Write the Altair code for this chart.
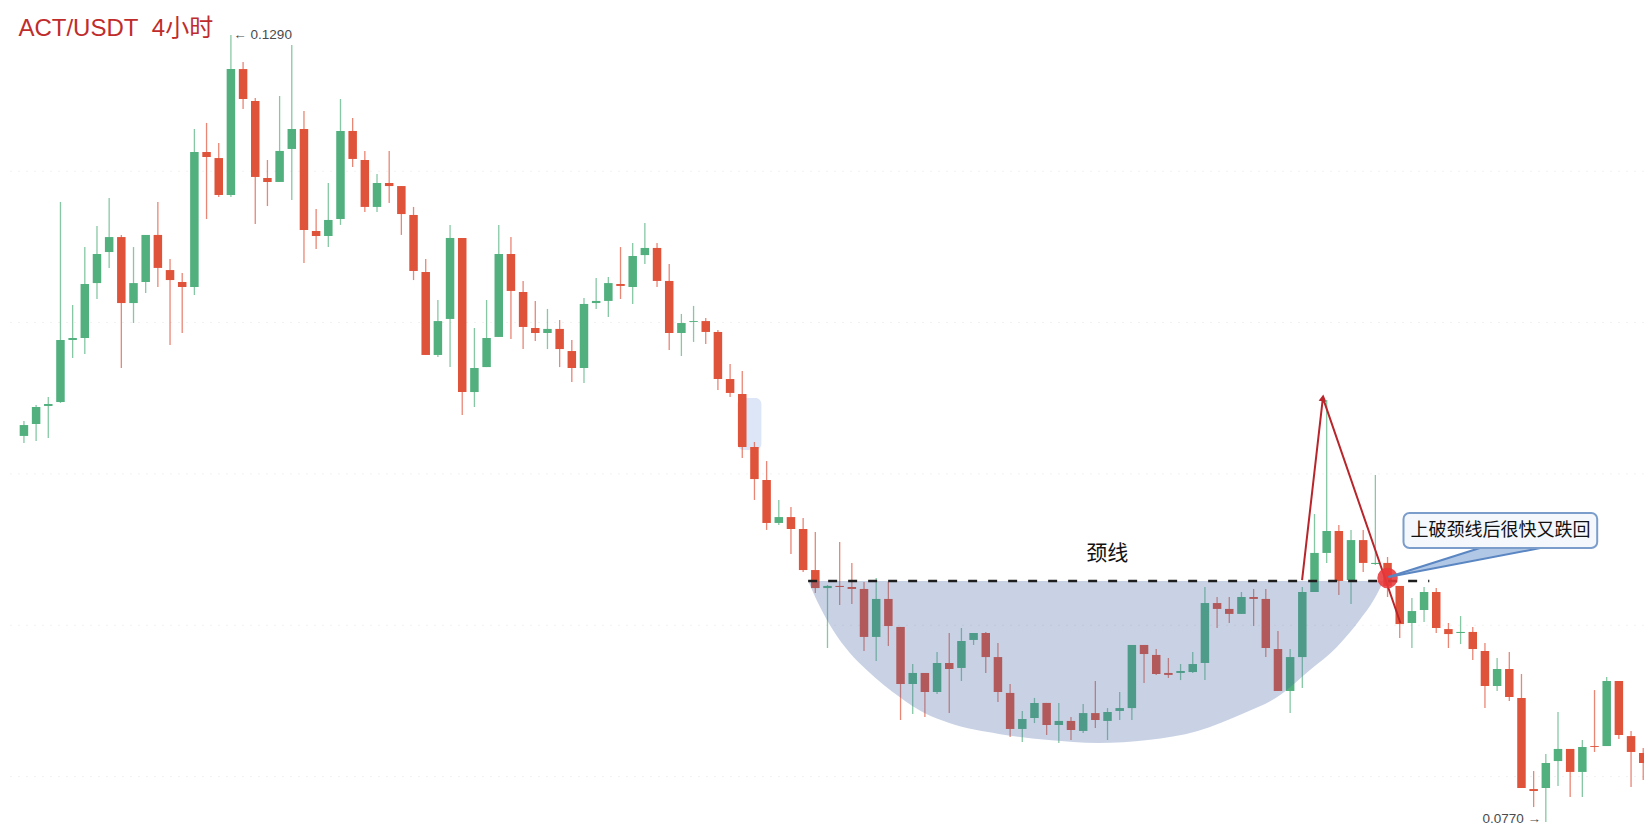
import altair as alt
import pandas as pd

# ---------------- candle data (ACT/USDT 4h) ----------------
opens = [
    0.10251, 0.10330, 0.10449, 0.10475, 0.10885, 0.10898, 0.11261, 0.11466, 0.11565, 0.11129,
    0.11268, 0.11579, 0.11347, 0.11268, 0.11235, 0.12127, 0.12087, 0.11843, 0.12675, 0.12464,
    0.11955, 0.11929, 0.12147, 0.12279, 0.11605, 0.11572, 0.11684, 0.12266, 0.12074, 0.11764,
    0.11922, 0.11902, 0.11711, 0.11334, 0.10786, 0.11024, 0.11559, 0.10541, 0.10706, 0.10905,
    0.11453, 0.11202, 0.10964, 0.10931, 0.10958, 0.10812, 0.10700, 0.11129, 0.11143, 0.11255,
    0.11235, 0.11446, 0.11493, 0.11275, 0.10931, 0.11004, 0.11010, 0.10938, 0.10627, 0.10528,
    0.10178, 0.09960, 0.09676, 0.09715, 0.09636, 0.09365, 0.09246, 0.09260, 0.09253, 0.09240,
    0.08923, 0.09174, 0.08989, 0.08612, 0.08685, 0.08559, 0.08751, 0.08718, 0.08903, 0.08949,
    0.08790, 0.08553, 0.08315, 0.08387, 0.08487, 0.08341, 0.08368, 0.08302, 0.08420, 0.08368,
    0.08434, 0.08453, 0.08870, 0.08804, 0.08685, 0.08685, 0.08691, 0.08751, 0.09147, 0.09108,
    0.09075, 0.09187, 0.09174, 0.08843, 0.08566, 0.08790, 0.09220, 0.09478, 0.09623, 0.09299,
    0.09563, 0.09405, 0.09412, 0.09260, 0.09015, 0.09101, 0.09220, 0.08975, 0.08949, 0.08956,
    0.08830, 0.08599, 0.08711, 0.08520, 0.07918, 0.07925, 0.08103, 0.08183, 0.08031, 0.08202,
    0.08202, 0.08632, 0.08268, 0.08156,
]
highs = [
    0.10350, 0.10455, 0.10508, 0.11797, 0.11116, 0.11499, 0.11638, 0.11823, 0.11579, 0.11499,
    0.11579, 0.11797, 0.11420, 0.11328, 0.12279, 0.12319, 0.12186, 0.12900, 0.12722, 0.12484,
    0.12074, 0.12497, 0.12834, 0.12398, 0.11750, 0.11922, 0.12477, 0.12352, 0.12134, 0.11982,
    0.12134, 0.11902, 0.11764, 0.11420, 0.11149, 0.11645, 0.11559, 0.10964, 0.11149, 0.11645,
    0.11565, 0.11275, 0.11143, 0.11090, 0.11017, 0.10885, 0.11162, 0.11295, 0.11301, 0.11499,
    0.11526, 0.11658, 0.11526, 0.11387, 0.11057, 0.11110, 0.11030, 0.10951, 0.10726, 0.10680,
    0.10211, 0.10085, 0.09828, 0.09782, 0.09709, 0.09616, 0.09266, 0.09550, 0.09412, 0.09286,
    0.09312, 0.09286, 0.08989, 0.08744, 0.08685, 0.08823, 0.08949, 0.08982, 0.08949, 0.08956,
    0.08883, 0.08612, 0.08434, 0.08520, 0.08487, 0.08487, 0.08394, 0.08480, 0.08632, 0.08453,
    0.08559, 0.08870, 0.08870, 0.08843, 0.08784, 0.08744, 0.08823, 0.09253, 0.09187, 0.09187,
    0.09220, 0.09240, 0.09240, 0.08962, 0.08843, 0.09253, 0.09735, 0.10488, 0.09663, 0.09630,
    0.09630, 0.09993, 0.09451, 0.09260, 0.09180, 0.09253, 0.09246, 0.09015, 0.09061, 0.08989,
    0.08883, 0.08784, 0.08823, 0.08678, 0.08037, 0.08150, 0.08427, 0.08183, 0.08242, 0.08572,
    0.08658, 0.08632, 0.08302, 0.08189,
]
lows = [
    0.10204, 0.10218, 0.10237, 0.10469, 0.10766, 0.10792, 0.11156, 0.11361, 0.10700, 0.10997,
    0.11195, 0.11235, 0.10852, 0.10931, 0.11182, 0.11684, 0.11830, 0.11830, 0.12411, 0.11651,
    0.11770, 0.11929, 0.11810, 0.11394, 0.11486, 0.11499, 0.11645, 0.12028, 0.11731, 0.11731,
    0.11790, 0.11579, 0.11281, 0.10786, 0.10773, 0.10706, 0.10389, 0.10442, 0.10706, 0.10905,
    0.10891, 0.10825, 0.10878, 0.10825, 0.10706, 0.10607, 0.10601, 0.11090, 0.11037, 0.11156,
    0.11123, 0.11387, 0.11235, 0.10819, 0.10779, 0.10872, 0.10858, 0.10555, 0.10508, 0.10105,
    0.09828, 0.09630, 0.09663, 0.09471, 0.09352, 0.09213, 0.08850, 0.09134, 0.09141, 0.08830,
    0.08764, 0.08863, 0.08374, 0.08414, 0.08394, 0.08546, 0.08420, 0.08632, 0.08870, 0.08685,
    0.08493, 0.08262, 0.08229, 0.08354, 0.08275, 0.08222, 0.08242, 0.08288, 0.08321, 0.08242,
    0.08374, 0.08374, 0.08619, 0.08672, 0.08652, 0.08638, 0.08685, 0.08638, 0.08982, 0.09015,
    0.09075, 0.08995, 0.08790, 0.08566, 0.08420, 0.08586, 0.09220, 0.09412, 0.09200, 0.09141,
    0.09352, 0.09398, 0.09187, 0.08916, 0.08850, 0.09022, 0.08949, 0.08850, 0.08876, 0.08771,
    0.08453, 0.08566, 0.08500, 0.07925, 0.07799, 0.07700, 0.07938, 0.07865, 0.07865, 0.08163,
    0.08202, 0.08249, 0.07932, 0.07978,
]
closes = [
    0.10323, 0.10442, 0.10462, 0.10885, 0.10898, 0.11255, 0.11453, 0.11565, 0.11129, 0.11261,
    0.11579, 0.11361, 0.11281, 0.11235, 0.12127, 0.12094, 0.11843, 0.12675, 0.12477, 0.11962,
    0.11929, 0.12134, 0.12279, 0.11612, 0.11572, 0.11678, 0.12266, 0.12081, 0.11764, 0.11922,
    0.11902, 0.11717, 0.11341, 0.10786, 0.11010, 0.11559, 0.10541, 0.10700, 0.10898, 0.11453,
    0.11209, 0.10971, 0.10931, 0.10958, 0.10825, 0.10700, 0.11123, 0.11143, 0.11261, 0.11242,
    0.11440, 0.11493, 0.11275, 0.10931, 0.10997, 0.11010, 0.10938, 0.10627, 0.10535, 0.10178,
    0.09966, 0.09676, 0.09715, 0.09636, 0.09365, 0.09246, 0.09260, 0.09253, 0.09240, 0.08923,
    0.09174, 0.08995, 0.08612, 0.08685, 0.08559, 0.08751, 0.08711, 0.08896, 0.08949, 0.08790,
    0.08559, 0.08315, 0.08381, 0.08487, 0.08341, 0.08368, 0.08308, 0.08420, 0.08374, 0.08427,
    0.08453, 0.08870, 0.08810, 0.08678, 0.08672, 0.08698, 0.08744, 0.09147, 0.09108, 0.09075,
    0.09187, 0.09174, 0.08850, 0.08566, 0.08790, 0.09220, 0.09478, 0.09623, 0.09293, 0.09563,
    0.09412, 0.09412, 0.09260, 0.09008, 0.09094, 0.09220, 0.08982, 0.08942, 0.08956, 0.08843,
    0.08599, 0.08711, 0.08526, 0.07925, 0.07905, 0.08090, 0.08183, 0.08031, 0.08196, 0.08196,
    0.08632, 0.08275, 0.08163, 0.08090,
]

# ---------------- annotation data ----------------
grid_prices = [0.08, 0.09, 0.10, 0.11, 0.12]
neckline_price = 0.09293
neckline_x = [64.41, 115.43]
# cup (rounded bottom) outline: candle index / price
cup_x = [64.41, 65.39, 66.45, 67.84, 69.22, 71.92, 73.96, 76.00, 80.08, 84.16, 88.24,
         92.33, 96.41, 100.24, 102.94, 105.63, 107.84, 109.71, 110.86, 111.67]
cup_low = [0.09293, 0.09121, 0.08969, 0.08817, 0.08705, 0.08526, 0.08420, 0.08354, 0.08282,
           0.08242, 0.08222, 0.08242, 0.08302, 0.08420, 0.08526, 0.08705, 0.08857, 0.09035,
           0.09167, 0.09293]
# red breakout path
spike_x = [104.98, 106.69, 113.06]
spike_y = [0.09299, 0.10502, 0.09015]
# red circle
circle_x, circle_y = 112.0, 0.09312
# callout
box_x = [113.31, 129.22]
box_y = [0.09511, 0.09742]
callout_text = "上破颈线后很快又跌回"
callout_pos = (121.27, 0.09626)
pointer_x = [112.08, 119.84, 124.98]
pointer_top = [0.09319, 0.09517, 0.09517]
pointer_bot = [0.09319, 0.09438, 0.09517]
# highlight rectangle
hl_x = [58.61, 60.57]
hl_y = [0.10158, 0.10502]

title_text = "ACT/USDT\u00a0\u00a04小时"
hi_label = "← 0.1290"
lo_label = "0.0770 →"

GREEN = "#52b07e"
RED = "#e0533b"

n = len(opens)
df = pd.DataFrame({
    "i": list(range(n)),
    "open": opens, "high": highs, "low": lows, "close": closes,
})
df["dir"] = ["up" if c >= o else "down" for o, c in zip(opens, closes)]

xs = alt.Scale(domain=[-0.898, 132.653], nice=False, zero=False)
ys = alt.Scale(domain=[0.0767385, 0.130784], nice=False, zero=False)


def X(f, **kw):
    return alt.X(f, type="quantitative", scale=xs, axis=None, **kw)


def Y(f, **kw):
    return alt.Y(f, type="quantitative", scale=ys, axis=None, **kw)


color = alt.Color("dir:N", scale=alt.Scale(domain=["up", "down"], range=[GREEN, RED]), legend=None)

grid = alt.Chart(pd.DataFrame({"p": grid_prices})).mark_rule(
    color="#f2f2f2", strokeWidth=1, strokeDash=[2, 6]
).encode(y=Y("p"))

hl = alt.Chart(pd.DataFrame({"x": [hl_x[0]], "x2": [hl_x[1]], "y": [hl_y[0]], "y2": [hl_y[1]]})).mark_rect(
    color="#dde6f7", cornerRadius=6
).encode(x=X("x"), x2="x2", y=Y("y"), y2="y2")

wicks = alt.Chart(df).mark_rule(strokeWidth=1.3, opacity=0.7).encode(
    x=X("i"), y=Y("low"), y2="high", color=color
)
bodies = alt.Chart(df).mark_bar(size=8.5).encode(
    x=X("i"), y=Y("open"), y2="close", color=color
)

cup = alt.Chart(pd.DataFrame({"x": cup_x, "lo": cup_low, "hi": [neckline_price] * len(cup_x)})).mark_area(
    color="#4a6aa5", opacity=0.3, interpolate="monotone"
).encode(x=X("x"), y=Y("lo"), y2="hi")

neck = alt.Chart(pd.DataFrame({"x": [neckline_x[0]], "x2": [neckline_x[1]], "y": [neckline_price]})).mark_rule(
    color="#1e1e1e", strokeWidth=2.5, strokeDash=[9, 11]
).encode(x=X("x"), x2="x2", y=Y("y"))

neck_label = alt.Chart(pd.DataFrame({"x": [88.98], "y": [0.09471], "t": ["颈线"]})).mark_text(
    fontSize=21, font="Noto Sans CJK SC", color="#111111", baseline="middle", align="center"
).encode(x=X("x"), y=Y("y"), text="t:N")

spike = alt.Chart(pd.DataFrame({"x": spike_x, "y": spike_y, "o": [0, 1, 2]})).mark_line(
    color="#b8262b", strokeWidth=2
).encode(x=X("x"), y=Y("y"), order="o:Q")

arrowhead = alt.Chart(pd.DataFrame({"x": [spike_x[1]], "y": [spike_y[1]]})).mark_point(
    shape="triangle-up", filled=True, size=60, angle=7, color="#b8262b", opacity=1
).encode(x=X("x"), y=Y("y"))

circle = alt.Chart(pd.DataFrame({"x": [circle_x], "y": [circle_y]})).mark_point(
    shape="circle", filled=True, size=420, color="#e8383a", opacity=0.88
).encode(x=X("x"), y=Y("y"))

pointer = alt.Chart(pd.DataFrame({"x": pointer_x, "t": pointer_top, "b": pointer_bot})).mark_area(
    color="#a9c1e3", opacity=0.9
).encode(x=X("x"), y=Y("t"), y2="b")

pointer_edges = alt.Chart(pd.DataFrame({
    "x": [pointer_x[0], pointer_x[1], pointer_x[0], pointer_x[2]],
    "y": [pointer_top[0], pointer_top[1], pointer_bot[0], pointer_bot[2]],
    "seg": ["a", "a", "b", "b"],
})).mark_line(color="#5a86c2", strokeWidth=2).encode(x=X("x"), y=Y("y"), detail="seg:N")

box = alt.Chart(pd.DataFrame({"x": [box_x[0]], "x2": [box_x[1]], "y": [box_y[0]], "y2": [box_y[1]]})).mark_rect(
    fill="#f4f7fb", stroke="#7a9dcb", strokeWidth=2, cornerRadius=6
).encode(x=X("x"), x2="x2", y=Y("y"), y2="y2")

box_text = alt.Chart(pd.DataFrame({"x": [callout_pos[0]], "y": [callout_pos[1]], "t": [callout_text]})).mark_text(
    fontSize=18, font="Noto Sans CJK SC", color="#111111", baseline="middle", align="center"
).encode(x=X("x"), y=Y("y"), text="t:N")

hi_txt = alt.Chart(pd.DataFrame({"x": [17.2], "y": [0.12900], "t": [hi_label]})).mark_text(
    fontSize=13.5, font="Liberation Sans", color="#4a4a4a", baseline="middle", align="left"
).encode(x=X("x"), y=Y("y"), text="t:N")

lo_txt = alt.Chart(pd.DataFrame({"x": [124.6], "y": [0.07722], "t": [lo_label]})).mark_text(
    fontSize=13.5, font="Liberation Sans", color="#4a4a4a", baseline="middle", align="right"
).encode(x=X("x"), y=Y("y"), text="t:N")

title = alt.Chart(pd.DataFrame({"x": [-0.45], "y": [0.12940], "t": [title_text]})).mark_text(
    fontSize=24, font="Liberation Sans, Noto Sans CJK SC", color="#bf2c2c", baseline="middle", align="left"
).encode(x=X("x"), y=Y("y"), text="t:N")

chart = alt.layer(
    grid, hl, wicks, bodies, cup, neck, neck_label, spike, arrowhead, circle,
    pointer, pointer_edges, box, box_text, hi_txt, lo_txt, title
).properties(
    width=1636, height=818, padding=0,
    autosize=alt.AutoSizeParams(type="none"),
    background="white",
).configure_view(stroke=None)

chart.save("out.html", embed_options={"renderer": "svg", "actions": False})
